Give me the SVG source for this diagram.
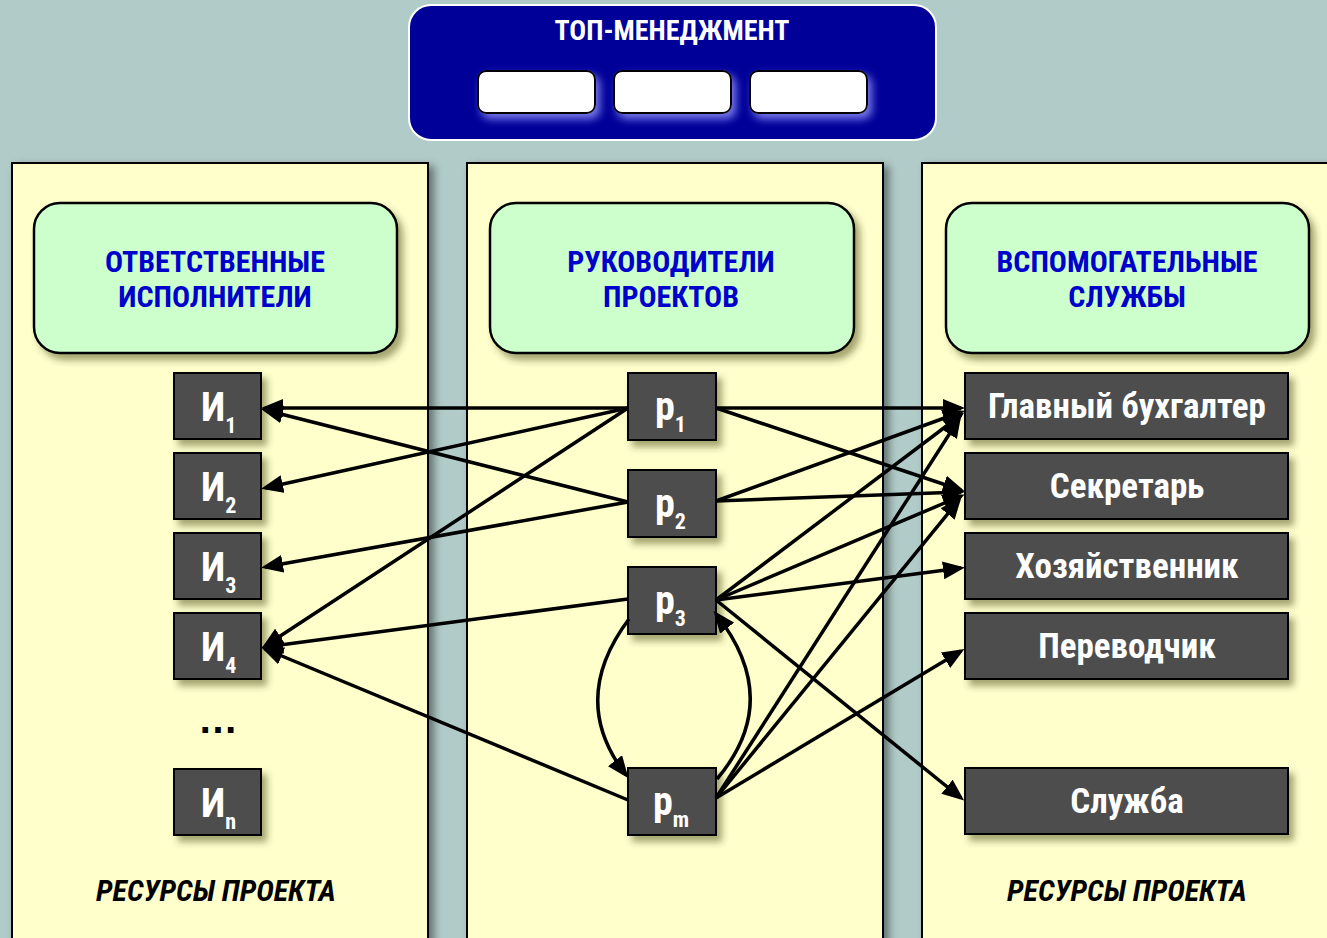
<svg xmlns="http://www.w3.org/2000/svg" width="1327" height="938" viewBox="0 0 1327 938">
  <defs>
    <style>
      .col { fill: #FFFFCC; stroke: #000; stroke-width: 2; filter: url(#colShadow); }
      .head { fill: #CCFFCC; stroke: #000; stroke-width: 2.5; filter: url(#boxShadow); }
      .headTxt { font-family: "Liberation Sans Narrow", "Roboto Condensed", "Liberation Sans", sans-serif; font-weight: bold; font-size: 30px; fill: #0000CC; text-anchor: middle; }
      .node { fill: #4D4D4D; stroke: #000; stroke-width: 2; filter: url(#boxShadow); }
      .nodeTxt { font-family: "Liberation Sans Narrow", "Roboto Condensed", "Liberation Sans", sans-serif; font-weight: bold; font-size: 35px; fill: #fff; text-anchor: middle; }
      .sym { font-family: "Liberation Sans Narrow", "Roboto Condensed", "Liberation Sans", sans-serif; font-weight: bold; font-size: 40px; fill: #fff; }
      .sub { font-size: 22px; }
      .foot { font-family: "Liberation Sans Narrow", "Roboto Condensed", "Liberation Sans", sans-serif; font-weight: bold; font-style: italic; font-size: 30px; fill: #000; text-anchor: middle; }
      .link { fill: none; stroke: #000; stroke-width: 3.5; marker-end: url(#arrow); }
      .tm { fill: #fff; stroke: #000; stroke-width: 2; filter: url(#glow); }
    </style>
    <marker id="arrow" viewBox="0 0 22 18" refX="18" refY="9" markerWidth="22" markerHeight="18" markerUnits="userSpaceOnUse" orient="auto">
      <path d="M0,0 L22,9 L0,18 Z" fill="#000"/>
    </marker>
    <filter id="colShadow" x="-10%" y="-10%" width="130%" height="130%">
      <feDropShadow dx="5" dy="4" stdDeviation="4" flood-color="#000" flood-opacity="0.45"/>
    </filter>
    <filter id="boxShadow" x="-20%" y="-20%" width="150%" height="150%">
      <feDropShadow dx="5" dy="6" stdDeviation="3.5" flood-color="#333300" flood-opacity="0.45"/>
    </filter>
    <filter id="glow" x="-20%" y="-30%" width="150%" height="170%">
      <feDropShadow dx="4" dy="5" stdDeviation="4" flood-color="#9999FF" flood-opacity="0.8"/>
    </filter>
  </defs>

  <!-- backdrop -->
  <rect x="0" y="0" width="1327" height="938" fill="#B1CBC8"/>

  <!-- top management panel -->
  <g id="top-management">
    <rect x="409" y="5" width="527" height="135" rx="22" fill="#000099" stroke="#fff" stroke-width="2"/>
    <text x="672" y="40" font-family="'Liberation Sans Narrow', 'Roboto Condensed', 'Liberation Sans', sans-serif" font-weight="bold" font-size="28" fill="#fff" text-anchor="middle">ТОП-МЕНЕДЖМЕНТ</text>
    <rect class="tm" x="478" y="71" width="117" height="42" rx="8"/>
    <rect class="tm" x="614" y="71" width="117" height="42" rx="8"/>
    <rect class="tm" x="750" y="71" width="117" height="42" rx="8"/>
  </g>

  <!-- three columns -->
  <g id="columns">
    <rect class="col" x="12" y="163" width="416" height="790"/>
    <rect class="col" x="467" y="163" width="416" height="790"/>
    <rect class="col" x="922" y="163" width="420" height="790"/>
  </g>

  <!-- column headers -->
  <g id="hdr-executors">
    <rect class="head" x="34" y="203" width="363" height="150" rx="26"/>
    <text class="headTxt" x="215" y="272">ОТВЕТСТВЕННЫЕ</text>
    <text class="headTxt" x="215" y="307">ИСПОЛНИТЕЛИ</text>
  </g>
  <g id="hdr-managers">
    <rect class="head" x="490" y="203" width="364" height="150" rx="26"/>
    <text class="headTxt" x="671" y="272">РУКОВОДИТЕЛИ</text>
    <text class="headTxt" x="671" y="307">ПРОЕКТОВ</text>
  </g>
  <g id="hdr-services">
    <rect class="head" x="946" y="203" width="363" height="150" rx="26"/>
    <text class="headTxt" x="1127" y="272">ВСПОМОГАТЕЛЬНЫЕ</text>
    <text class="headTxt" x="1127" y="307">СЛУЖБЫ</text>
  </g>

  <!-- executors -->
  <g id="i1"><rect class="node" x="174" y="373" width="87" height="66"/><text class="sym" x="201" y="421">И<tspan class="sub" dy="12">1</tspan></text></g>
  <g id="i2"><rect class="node" x="174" y="453" width="87" height="66"/><text class="sym" x="201" y="501">И<tspan class="sub" dy="12">2</tspan></text></g>
  <g id="i3"><rect class="node" x="174" y="533" width="87" height="66"/><text class="sym" x="201" y="581">И<tspan class="sub" dy="12">3</tspan></text></g>
  <g id="i4"><rect class="node" x="174" y="613" width="87" height="66"/><text class="sym" x="201" y="661">И<tspan class="sub" dy="12">4</tspan></text></g>
  <text id="ellipsis" x="218" y="733" font-family="'Liberation Sans', sans-serif" font-weight="bold" font-size="40" fill="#000" text-anchor="middle">…</text>
  <g id="in"><rect class="node" x="174" y="769" width="87" height="66"/><text class="sym" x="201" y="817">И<tspan class="sub" dy="12">n</tspan></text></g>
  <text id="res-left" class="foot" x="216" y="901">РЕСУРСЫ ПРОЕКТА</text>

  <!-- project managers -->
  <g id="r1"><rect class="node" x="628" y="373" width="88" height="67"/><text class="sym" x="655" y="420">р<tspan class="sub" dy="12">1</tspan></text></g>
  <g id="r2"><rect class="node" x="628" y="470" width="88" height="67"/><text class="sym" x="655" y="517">р<tspan class="sub" dy="12">2</tspan></text></g>
  <g id="r3"><rect class="node" x="628" y="567" width="88" height="67"/><text class="sym" x="655" y="614">р<tspan class="sub" dy="12">3</tspan></text></g>
  <g id="rm"><rect class="node" x="628" y="768" width="88" height="67"/><text class="sym" x="653" y="815">р<tspan class="sub" dy="12">m</tspan></text></g>

  <!-- support services -->
  <g id="s-accountant"><rect class="node" x="965" y="373" width="323" height="66"/><text class="nodeTxt" x="1127" y="418">Главный бухгалтер</text></g>
  <g id="s-secretary"><rect class="node" x="965" y="453" width="323" height="66"/><text class="nodeTxt" x="1127" y="498">Секретарь</text></g>
  <g id="s-supply"><rect class="node" x="965" y="533" width="323" height="66"/><text class="nodeTxt" x="1127" y="578">Хозяйственник</text></g>
  <g id="s-translator"><rect class="node" x="965" y="613" width="323" height="66"/><text class="nodeTxt" x="1127" y="658">Переводчик</text></g>
  <g id="s-service"><rect class="node" x="965" y="768" width="323" height="66"/><text class="nodeTxt" x="1127" y="813">Служба</text></g>
  <text id="res-right" class="foot" x="1127" y="901">РЕСУРСЫ ПРОЕКТА</text>

  <!-- connectors -->
  <g id="connectors">
    <!-- managers to executors -->
    <line class="link" x1="628" y1="408" x2="265" y2="408"/>
    <line class="link" x1="628" y1="408" x2="265" y2="488"/>
    <line class="link" x1="628" y1="408" x2="265" y2="646"/>
    <line class="link" x1="628" y1="502" x2="265" y2="410"/>
    <line class="link" x1="628" y1="502" x2="265" y2="567"/>
    <line class="link" x1="628" y1="599" x2="265" y2="647"/>
    <line class="link" x1="628" y1="800" x2="265" y2="649"/>
    <!-- managers to services -->
    <line class="link" x1="716" y1="408" x2="961" y2="408"/>
    <line class="link" x1="716" y1="408" x2="961" y2="490"/>
    <line class="link" x1="716" y1="501" x2="961" y2="412"/>
    <line class="link" x1="716" y1="501" x2="961" y2="492"/>
    <line class="link" x1="716" y1="600" x2="961" y2="415"/>
    <line class="link" x1="716" y1="600" x2="961" y2="496"/>
    <line class="link" x1="716" y1="600" x2="961" y2="568"/>
    <line class="link" x1="716" y1="600" x2="961" y2="798"/>
    <line class="link" x1="716" y1="798" x2="959" y2="419"/>
    <line class="link" x1="716" y1="798" x2="959" y2="500"/>
    <line class="link" x1="716" y1="798" x2="961" y2="651"/>
    <!-- loop between р3 and рm -->
    <path class="link" d="M 629 619 Q 568 700 626 775"/>
    <path class="link" d="M 717 779 Q 784 700 716 614"/>
  </g>
</svg>
